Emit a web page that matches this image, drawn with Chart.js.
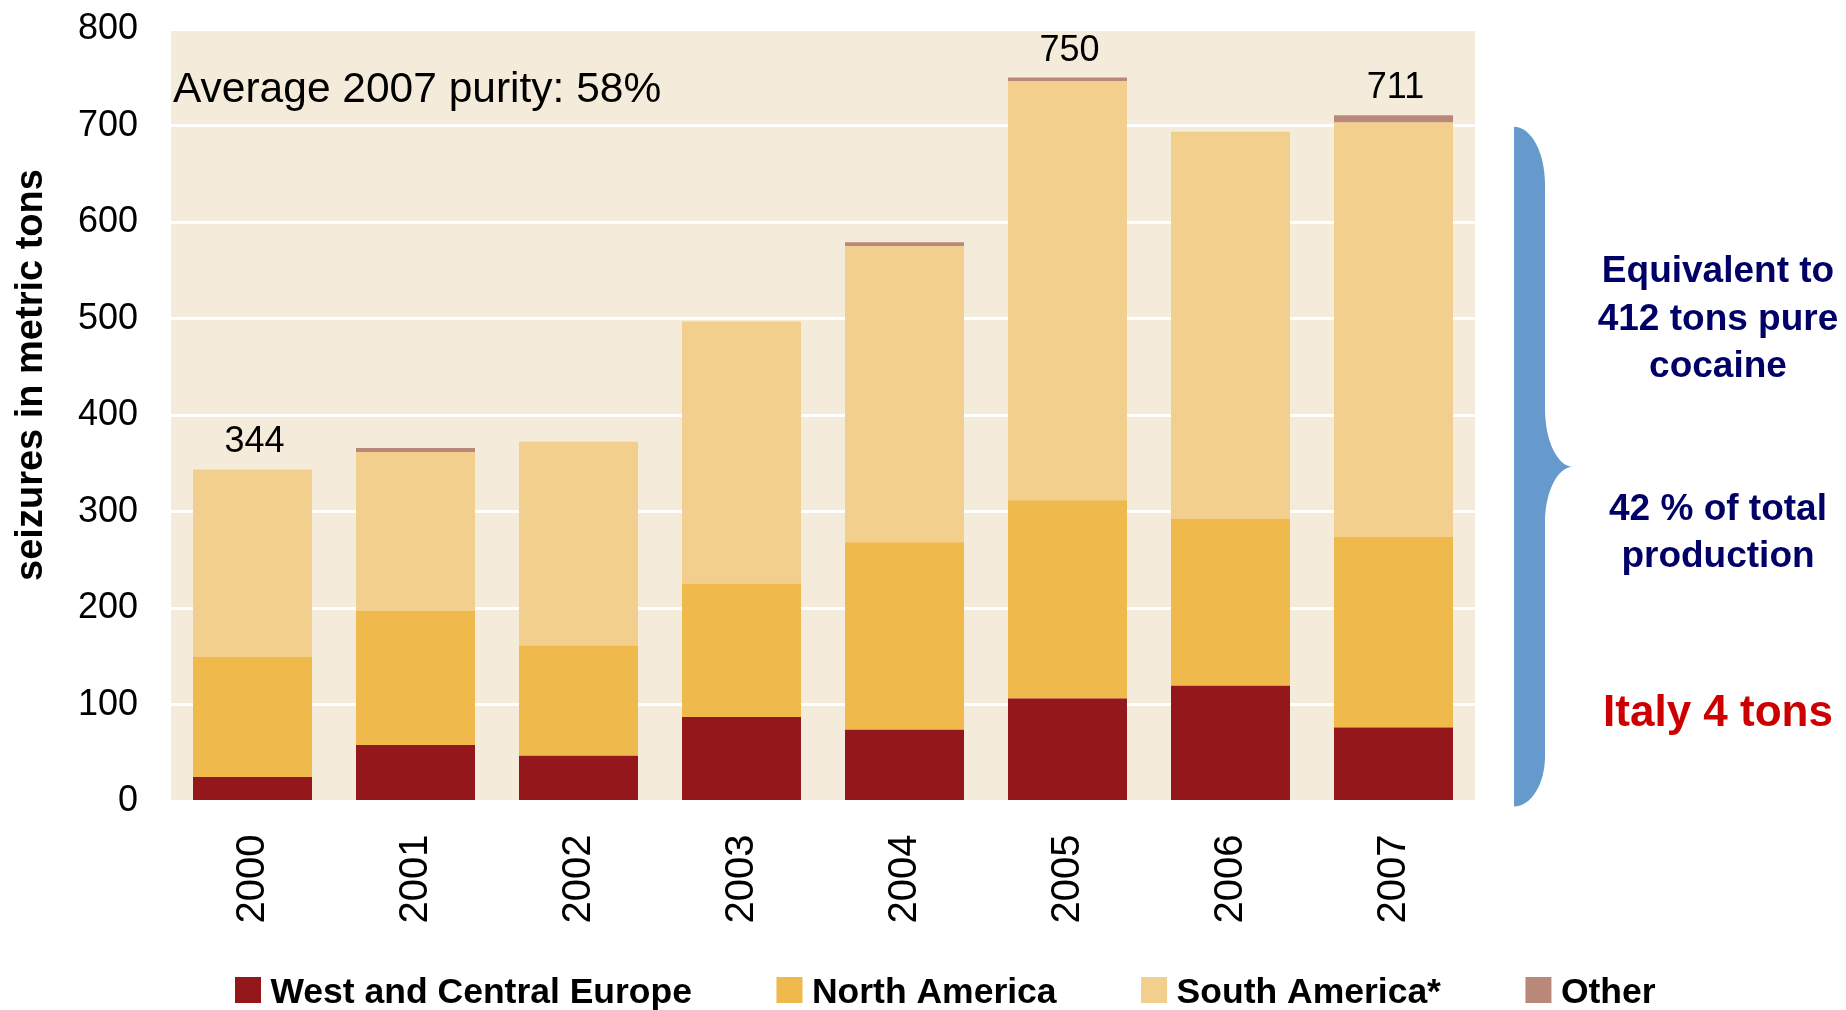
<!DOCTYPE html>
<html>
<head>
<meta charset="utf-8">
<script src="https://cdn.jsdelivr.net/npm/chart.js@4/dist/chart.umd.min.js"></script>
<style>
html, body { margin: 0; padding: 0; background: #ffffff; }
#wrap { position: relative; width: 1846px; height: 1010px; }
</style>
</head>
<body>
<div id="wrap"><canvas id="c"></canvas></div>
<script>
// ---- data ----
const years = ['2000', '2001', '2002', '2003', '2004', '2005', '2006', '2007'];
const westCentralEurope = [25.5, 58.6, 47.5, 87.5, 74.3, 106.6, 120.0, 76.6];
const northAmerica      = [124.2, 138.8, 114.1, 138.1, 194.4, 205.4, 172.6, 197.5];
const southAmerica      = [194.3, 164.6, 211.1, 271.6, 306.5, 434.4, 401.2, 429.3];
const otherRegions      = [0, 4.2, 0, 0, 4.1, 3.6, 0, 7.6];
const totalLabels = ['344', '', '', '', '', '750', '', '711'];
const yTickValues = [0, 100, 200, 300, 400, 500, 600, 700, 800];
const seriesNames = ['West and Central Europe', 'North America', 'South America*', 'Other'];
const seriesColors = ['#94171B', '#F0B94C', '#F2CF8C', '#BA8878'];
const yAxisTitle = 'seizures in metric tons';
const purityNote = 'Average 2007 purity: 58%';
const sideNotesBlue = ['Equivalent to', '412 tons pure', 'cocaine', '', '42 % of total', 'production'];
const sideNoteRed = 'Italy 4 tons';
const braceFrom = 0, braceTo = 700;

const FONT = '"Liberation Sans", Arial, Helvetica, sans-serif';

const decor = {
  id: 'decor',
  beforeDraw(chart) {
    const { ctx, chartArea: a } = chart;
    ctx.save();
    ctx.fillStyle = '#F5EBDB';
    ctx.fillRect(a.left, a.top, a.right - a.left, a.bottom - a.top);
    ctx.restore();
  },
  afterDraw(chart) {
    const { ctx, chartArea: a } = chart;
    const xs = chart.scales.x, ys = chart.scales.y;
    ctx.save();
    ctx.fillStyle = '#000';

    // y axis title
    ctx.save();
    ctx.translate(42, 375);
    ctx.rotate(-Math.PI / 2);
    ctx.font = 'bold 38px ' + FONT;
    ctx.textAlign = 'center';
    ctx.textBaseline = 'alphabetic';
    ctx.fillText(yAxisTitle, 0, 0);
    ctx.restore();

    // purity note
    ctx.font = '42.5px ' + FONT;
    ctx.textAlign = 'left';
    ctx.textBaseline = 'alphabetic';
    ctx.fillText(purityNote, a.left + 2, 102);

    // total labels
    ctx.font = '36px ' + FONT;
    ctx.textAlign = 'center';
    const ds = chart.data.datasets;
    totalLabels.forEach((t, i) => {
      if (!t) return;
      let sum = 0;
      ds.forEach(d => { sum += d.data[i]; });
      ctx.fillText(t, xs.getPixelForValue(i) + 2, ys.getPixelForValue(sum) - 17);
    });

    // brace
    const T = ys.getPixelForValue(braceTo) + 1;
    const B = ys.getPixelForValue(braceFrom) + 5;
    const M = (T + B) / 2;
    const L = a.right + 39, R = L + 31, P = L + 59;
    const k = 0.552;
    ctx.beginPath();
    ctx.moveTo(L, T);
    ctx.bezierCurveTo(L + k * (R - L), T, R, T + 57 - k * 57, R, T + 57);
    ctx.lineTo(R, M - 58);
    ctx.bezierCurveTo(R, M - 58 + k * 58, P - k * (P - R), M, P, M);
    ctx.bezierCurveTo(P - k * (P - R), M, R, M + 56 - k * 56, R, M + 56);
    ctx.lineTo(R, B - 50);
    ctx.bezierCurveTo(R, B - 50 + k * 50, L + k * (R - L), B, L, B);
    ctx.closePath();
    ctx.fillStyle = '#6699CC';
    ctx.fill();

    // side notes
    const cx = 1718;
    ctx.textAlign = 'center';
    ctx.fillStyle = '#000066';
    ctx.font = 'bold 37px ' + FONT;
    const blueBase = [282, 330, 377, 0, 520, 567];
    sideNotesBlue.forEach((t, i) => { if (t) ctx.fillText(t, cx, blueBase[i]); });
    ctx.fillStyle = '#CC0000';
    ctx.font = 'bold 44px ' + FONT;
    ctx.fillText(sideNoteRed, cx, 726);

    // legend
    ctx.font = 'bold 35.5px ' + FONT;
    ctx.textAlign = 'left';
    let x = 235;
    ds.forEach((d, i) => {
      ctx.fillStyle = d.backgroundColor;
      ctx.fillRect(x, 977, 26, 26);
      ctx.fillStyle = '#000';
      ctx.fillText(d.label, x + 35.5, 1003);
      x += 35.5 + ctx.measureText(d.label).width + 84.5;
    });
    ctx.restore();
  }
};

const seriesData = [westCentralEurope, northAmerica, southAmerica, otherRegions];

new Chart(document.getElementById('c'), {
  type: 'bar',
  data: {
    labels: years,
    datasets: seriesData.map((arr, i) => ({
      label: seriesNames[i],
      data: arr,
      backgroundColor: seriesColors[i],
      borderWidth: 0,
      barPercentage: 0.73,
      categoryPercentage: 1.0
    }))
  },
  options: {
    responsive: true,
    maintainAspectRatio: false,
    animation: false,
    layout: { padding: { left: 0, right: 371, top: 29.3, bottom: 0 } },
    plugins: { legend: { display: false }, tooltip: { enabled: false }, title: { display: false } },
    scales: {
      x: {
        stacked: true,
        grid: { display: false, drawTicks: false },
        border: { display: false },
        ticks: {
          font: { family: FONT, size: 40 },
          color: '#000',
          minRotation: 90,
          maxRotation: 90,
          autoSkip: false,
          padding: 33
        },
        afterFit: s => { s.height = 208.5; s.paddingLeft = 0; s.paddingRight = 0; }
      },
      y: {
        stacked: true,
        min: 0,
        max: 800,
        grid: { color: '#ffffff', lineWidth: 3, drawTicks: false },
        border: { display: false },
        ticks: {
          font: { family: FONT, size: 36 },
          color: '#000',
          padding: 33
        },
        afterBuildTicks: s => { s.ticks = yTickValues.map(v => ({ value: v })); },
        afterFit: s => { s.width = 171; s.paddingTop = 0; s.paddingBottom = 0; }
      }
    }
  },
  plugins: [decor]
});
</script>
</body>
</html>
